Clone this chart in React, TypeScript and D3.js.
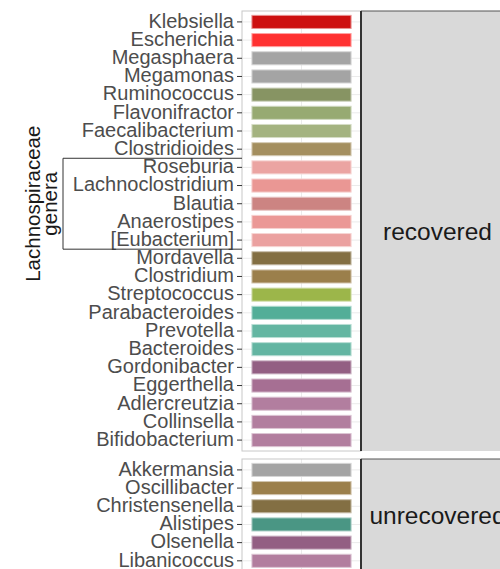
import React from "react";
import * as d3 from "d3";

// genera per facet, top to bottom
const recoveredGenera = [
  "Klebsiella",
  "Escherichia",
  "Megasphaera",
  "Megamonas",
  "Ruminococcus",
  "Flavonifractor",
  "Faecalibacterium",
  "Clostridioides",
  "Roseburia",
  "Lachnoclostridium",
  "Blautia",
  "Anaerostipes",
  "[Eubacterium]",
  "Mordavella",
  "Clostridium",
  "Streptococcus",
  "Parabacteroides",
  "Prevotella",
  "Bacteroides",
  "Gordonibacter",
  "Eggerthella",
  "Adlercreutzia",
  "Collinsella",
  "Bifidobacterium",
];
const recoveredColors = [
  "#cd1111", "#ff3131", "#a4a4a4", "#a4a4a4", "#879463", "#97aa72",
  "#a4b380", "#a48f5f", "#eba4a2", "#ea9794", "#cc8482", "#eb9896",
  "#eba1a0", "#836f43", "#9b7f4b", "#9cb64a", "#53ae98", "#64b6a2",
  "#63b5a2", "#935f83", "#a66f93", "#b27e9f", "#b27e9f", "#b27e9f",
];

const unrecoveredGenera = [
  "Akkermansia",
  "Oscillibacter",
  "Christensenella",
  "Alistipes",
  "Olsenella",
  "Libanicoccus",
];
const unrecoveredColors = [
  "#a4a4a4", "#9b7f4b", "#836f43", "#4a9684", "#935f83", "#b27e9f",
];

const facetLabels = ["recovered", "unrecovered"];
const xCategory = ["all"];
const barValue = 1;

// bracket marks the Lachnospiraceae block
const bracketFirst = "Roseburia";
const bracketLast = "[Eubacterium]";
const bracketTitle = ["Lachnospiraceae", "genera"];

const W = 500;
const H = 569;
const margin = { left: 242, top: 11 };
const panelW = 119;
const stripW = 155;
const panelGap = 8;
const expand = 0.6;
const step = 440 / (recoveredGenera.length - 1 + 2 * expand);
const font = "'Liberation Sans', Arial, Helvetica, sans-serif";

function Panel({ genera, colors, label, top }) {
  const h = step * (genera.length - 1 + 2 * expand);
  const y = d3
    .scalePoint()
    .domain(genera)
    .range([top, top + h])
    .padding(expand);
  const x = d3
    .scalePoint()
    .domain(xCategory)
    .range([margin.left, margin.left + panelW])
    .padding(expand);
  const unit = panelW / (xCategory.length - 1 + 2 * expand);
  const barH = step * 0.72;
  const x0 = x(xCategory[0]) - (unit * barValue) / 2;

  return (
    <g>
      <rect x={margin.left} y={top} width={panelW} height={h} fill="#fff" />
      {genera.map((g) => (
        <line key={g} x1={margin.left} x2={margin.left + panelW} y1={y(g)} y2={y(g)}
          stroke="#ebebeb" strokeWidth={1} />
      ))}
      <line x1={x(xCategory[0])} x2={x(xCategory[0])} y1={top} y2={top + h}
        stroke="#ebebeb" strokeWidth={1} />
      {genera.map((g, i) => (
        <rect key={g} x={x0} y={y(g) - barH / 2} width={unit * barValue} height={barH}
          fill={colors[i]} stroke={d3.interpolateRgb(colors[i], "#fff")(0.55)} strokeWidth={1} />
      ))}
      <rect x={margin.left} y={top} width={panelW} height={h} fill="none"
        stroke="#c8c8c8" strokeWidth={1} />
      {genera.map((g) => (
        <g key={g}>
          <line x1={margin.left - 5} x2={margin.left} y1={y(g)} y2={y(g)} stroke="#333" />
          <text x={margin.left - 8} y={y(g)} dy="0.29em" textAnchor="end"
            fontFamily={font} fontSize={20} fill="#4d4d4d">{g}</text>
        </g>
      ))}
      <rect x={margin.left + panelW} y={top} width={stripW} height={h} fill="#d9d9d9" />
      <line x1={margin.left + panelW} x2={W} y1={top} y2={top} stroke="#555" strokeWidth={1} />
      <line x1={margin.left + panelW} x2={margin.left + panelW} y1={top} y2={top + h}
        stroke="#333" strokeWidth={2} />
      <text x={margin.left + panelW + stripW / 2 - 1} y={top + h / 2} dy="0.35em"
        textAnchor="middle" fontFamily={font} fontSize={24.5} fill="#1a1a1a">{label}</text>
    </g>
  );
}

export default function App() {
  const top2 = margin.top + 440 + panelGap;
  const y = d3
    .scalePoint()
    .domain(recoveredGenera)
    .range([margin.top, margin.top + 440])
    .padding(expand);
  const bTop = y(bracketFirst) - step / 2;
  const bBot = y(bracketLast) + step / 2;
  const bLeft = 63;
  const bMid = (bTop + bBot) / 2;

  return (
    <div style={{ position: "fixed", left: 0, top: 0 }}>
      <svg width={W} height={H} style={{ display: "block", background: "#fff" }}>
        <Panel genera={recoveredGenera} colors={recoveredColors} label={facetLabels[0]} top={margin.top} />
        <Panel genera={unrecoveredGenera} colors={unrecoveredColors} label={facetLabels[1]} top={top2} />
        <path d={`M${margin.left},${bTop}H${bLeft}V${bBot}H${margin.left}`}
          fill="none" stroke="#333" strokeWidth={1} />
        {bracketTitle.map((t, i) => (
          <text key={t} transform={`translate(${40 + i * 17},${bMid}) rotate(-90)`}
            textAnchor="middle" fontFamily={font} fontSize={20.5} fill="#1a1a1a">{t}</text>
        ))}
      </svg>
    </div>
  );
}
